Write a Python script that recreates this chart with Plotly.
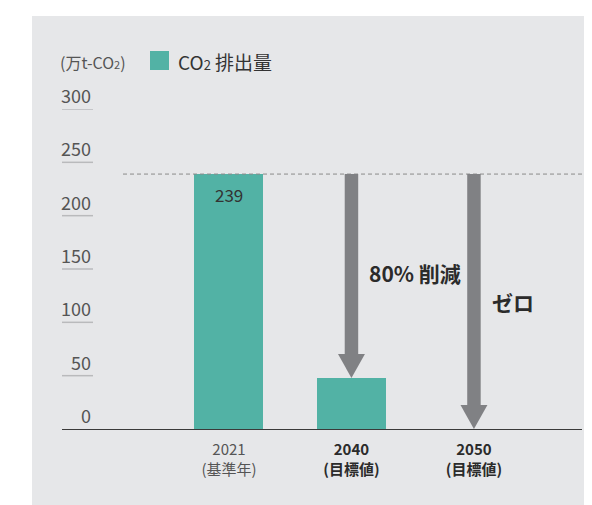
import plotly.graph_objects as go

# ---- data ----
categories = ["2021", "2040", "2050"]
sublabels = ["(基準年)", "(目標値)", "(目標値)"]
values = [239, 47.8, 0]
y_ticks = [0, 50, 100, 150, 200, 250, 300]
reduction_labels = ["", "80% 削減", "ゼロ"]
series_name = "CO<span style='font-size:13px'>2</span> 排出量"
unit_label = "(万t-CO<span style='font-size:11px'>2</span>)"

FONT = "Noto Sans CJK JP, Noto Sans, sans-serif"
TEAL = "#52b2a5"
ARROW = "#808184"
BG = "#e6e7e9"

# page body has an 8px margin; the figure is laid out in its own coordinates
OFF = 8
W, H = 592 - OFF, 505 - OFF
L, R, T, B = 62 - OFF, 10, 109 - OFF, 76
PW, PH = W - L - R, H - T - B  # 520 x 320


def px_x(px):
    return (px - OFF - L) / PW


def px_y(py):
    return (H - B - (py - OFF)) / PH


x_pos = list(range(len(categories)))

fig = go.Figure()
fig.add_trace(go.Bar(
    x=x_pos, y=values, width=0.563, marker=dict(color=TEAL, line=dict(width=0)),
    name="CO₂排出量", showlegend=False, hoverinfo="skip",
))

shapes = []
annotations = []

# grey panel
shapes.append(dict(type="rect", xref="paper", yref="paper",
                   x0=px_x(32), x1=px_x(600), y0=px_y(520), y1=px_y(16),
                   fillcolor=BG, line=dict(width=0), layer="below"))

# tick underlines + tick labels
for t in y_ticks:
    if t != 0:
        shapes.append(dict(type="line", xref="paper", yref="y",
                           x0=0, x1=31 / PW, y0=t, y1=t,
                           line=dict(color="#b9babc", width=1.5)))
    annotations.append(dict(xref="paper", yref="y", x=31 / PW, y=t,
                            xanchor="right", yanchor="bottom", yshift=-1,
                            text=str(t), showarrow=False,
                            font=dict(family=FONT, size=18, color="#555555")))

# dashed reference line at base-year level
shapes.append(dict(type="line", xref="x", yref="y", x0=-0.865, x1=2.882,
                   y0=values[0], y1=values[0],
                   line=dict(color="#8a8a8a", width=1, dash="4px,3px")))

# value label inside base-year bar
annotations.append(dict(x=x_pos[0], y=values[0], xref="x", yref="y",
                        text=str(values[0]), showarrow=False,
                        yanchor="middle", yshift=-20,
                        font=dict(family=FONT, size=17, color="#333333")))

# reduction arrows
head_h = 22.5
shaft_hw = 0.055
head_hw = 0.11
for i in (1, 2):
    xc = x_pos[i]
    tip = values[i]
    top = values[0]
    shapes.append(dict(type="rect", xref="x", yref="y",
                       x0=xc - shaft_hw, x1=xc + shaft_hw,
                       y0=tip + head_h - 0.5, y1=top,
                       fillcolor=ARROW, line=dict(width=0)))
    shapes.append(dict(type="path", xref="x", yref="y",
                       path=f"M {xc - head_hw},{tip + head_h} L {xc + head_hw},{tip + head_h} L {xc},{tip} Z",
                       fillcolor=ARROW, line=dict(width=0)))

annotations.append(dict(x=1.127, y=146, xref="x", yref="y", xanchor="left",
                        yanchor="middle", text=reduction_labels[1], showarrow=False,
                        font=dict(family=FONT, size=21, color="#2b2b2b", weight=600)))
annotations.append(dict(x=2.131, y=119, xref="x", yref="y", xanchor="left",
                        yanchor="middle", text=reduction_labels[2], showarrow=False,
                        font=dict(family=FONT, size=21, color="#2b2b2b", weight=600)))

# legend (custom)
shapes.append(dict(type="rect", xref="paper", yref="paper",
                   x0=px_x(150), x1=px_x(169),
                   y0=px_y(70), y1=px_y(51),
                   fillcolor=TEAL, line=dict(width=0)))
annotations.append(dict(xref="paper", yref="paper", x=px_x(176),
                        y=px_y(61), xanchor="left", yanchor="middle",
                        text=series_name, showarrow=False,
                        font=dict(family=FONT, size=19, color="#333333")))
annotations.append(dict(xref="paper", yref="paper", x=px_x(58),
                        y=px_y(62), xanchor="left", yanchor="middle",
                        text=unit_label, showarrow=False,
                        font=dict(family=FONT, size=16, color="#555555")))

ticktext = []
for i, (c, s) in enumerate(zip(categories, sublabels)):
    if i == 0:
        ticktext.append(f"{c}<br>{s}")
    else:
        ticktext.append(f"<span style='color:#2b2b2b'><b>{c}</b><br><b>{s}</b></span>")

fig.update_layout(
    width=W, height=H,
    margin=dict(l=L, r=R, t=T, b=B),
    paper_bgcolor="white", plot_bgcolor=BG,
    font=dict(family=FONT),
    bargap=0,
    xaxis=dict(range=[-1.363, 2.882], tickmode="array", tickvals=x_pos,
               ticktext=ticktext, showgrid=False, zeroline=False,
               showline=True, linecolor="#3a3a3a", linewidth=1,
               ticks="outside", ticklen=7, tickcolor="rgba(0,0,0,0)",
               tickfont=dict(family=FONT, size=15, color="#555555"),
               fixedrange=True),
    yaxis=dict(range=[0, 300], showgrid=False, zeroline=False,
               showticklabels=False, showline=False, fixedrange=True),
    shapes=shapes, annotations=annotations,
)

fig.write_html("out.html")
